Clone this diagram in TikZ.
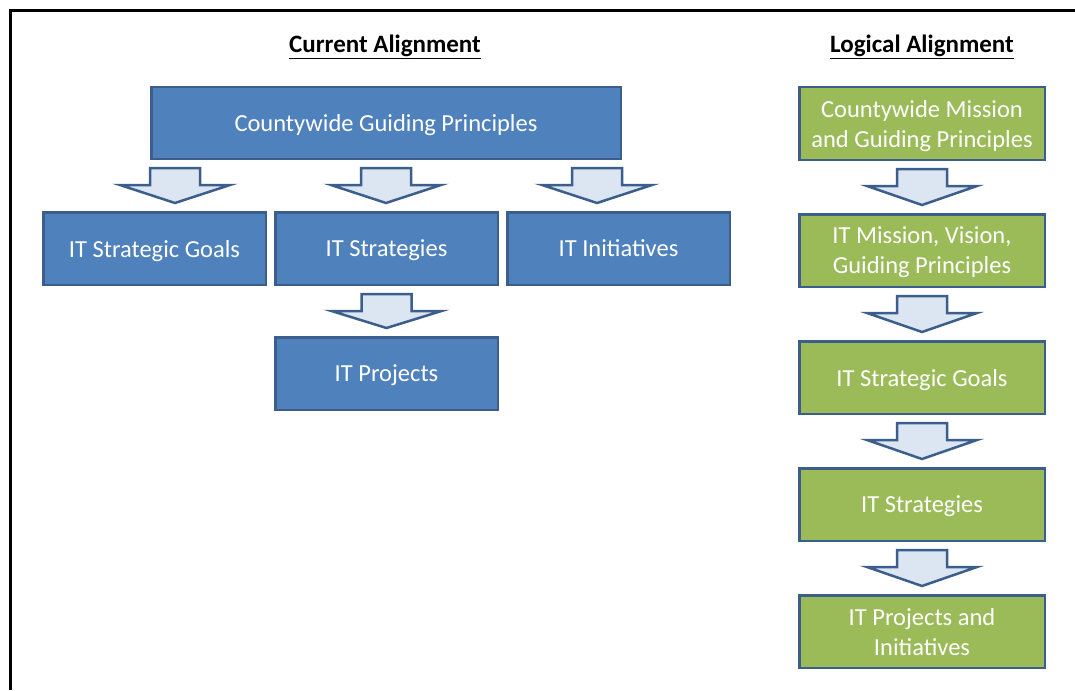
\documentclass[tikz,border=0pt]{standalone}
\usepackage{fontspec}
\setmainfont{Carlito}
\usepackage{xcolor}
\usepackage{tikz}
\usetikzlibrary{positioning}
\usetikzlibrary{calc}

\definecolor{boxblue}{HTML}{4F81BD}
\definecolor{boxgreen}{HTML}{9BBB59}
\definecolor{edgeblue}{HTML}{3B5E8C}
\definecolor{arrowfill}{HTML}{DCE6F2}

% block arrow from the bottom of one box to the top of the next
\newcommand{\blockarrow}[3][0pt]{%
  \path[arrowbox] let \p1=($(#2.south)+(#1,0pt)$), \p2=(#3.north) in
    (\x1-25pt,\y1-8pt) -- (\x1+25pt,\y1-8pt) -- (\x1+25pt,\y1-25pt)
    -- (\x1+55pt,\y1-25pt) -- (\x1,\y2+8pt) -- (\x1-55pt,\y1-25pt)
    -- (\x1-25pt,\y1-25pt) -- cycle;}

\begin{document}
\begin{tikzpicture}[x=1pt, y=-1pt, node distance=127pt,
    bluebox/.style={rectangle, draw=edgeblue, fill=boxblue, line width=2.5pt,
      text=white, font=\fontsize{24.5}{30}\selectfont, align=center,
      minimum width=222.5pt, minimum height=72.5pt, inner sep=0pt, text depth=0pt},
    greenbox/.style={bluebox, fill=boxgreen, minimum width=245.5pt},
    arrowbox/.style={draw=edgeblue, fill=arrowfill, line width=2.5pt},
    heading/.style={font=\fontsize{25}{28}\selectfont\bfseries}]
        \useasboundingbox (0,0) rectangle (1075,690);
        \draw [line width=3pt] (10,690) |- (1075,11);

        \node [heading] (curtitle) at (385,47) {\underline{Current Alignment}};
        \node [heading] (logtitle) at (922,47) {\underline{Logical Alignment}};

        % current alignment
        \node [bluebox, minimum width=469.5pt, minimum height=71.5pt] (guiding) at (386,123) {Countywide Guiding Principles};
        \node [bluebox] (goals) at (154.5,248.5) {IT Strategic Goals};
        \node [bluebox, right of=goals, node distance=232pt] (strategies) {IT Strategies};
        \node [bluebox, right of=strategies, node distance=232pt] (initiatives) {IT Initiatives};
        \node [bluebox, below of=strategies, node distance=125pt] (projects) {IT Projects};

        \blockarrow[-211pt]{guiding}{goals}
        \blockarrow{guiding}{strategies}
        \blockarrow[211pt]{guiding}{initiatives}
        \blockarrow{strategies}{projects}

        % logical alignment
        \node [greenbox] (lguiding) at (922,123.5) {Countywide Mission\\and Guiding Principles};
        \node [greenbox, below of=lguiding] (lmission) {IT Mission, Vision,\\Guiding Principles};
        \node [greenbox, below of=lmission] (lgoals) {IT Strategic Goals};
        \node [greenbox, below of=lgoals] (lstrategies) {IT Strategies};
        \node [greenbox, below of=lstrategies] (lprojects) {IT Projects and\\Initiatives};

        \blockarrow{lguiding}{lmission}
        \blockarrow{lmission}{lgoals}
        \blockarrow{lgoals}{lstrategies}
        \blockarrow{lstrategies}{lprojects}
    \end{tikzpicture}
\end{document}
